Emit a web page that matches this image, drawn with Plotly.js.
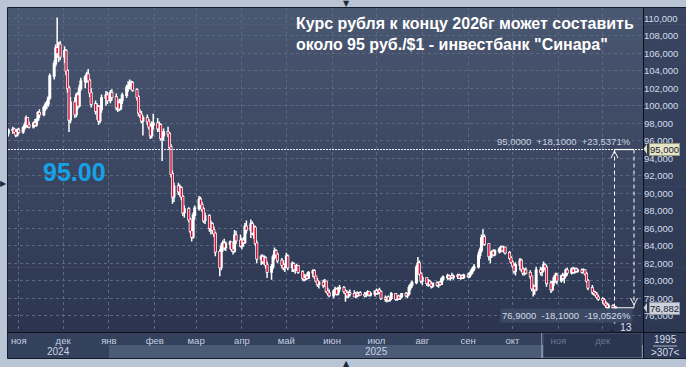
<!DOCTYPE html>
<html><head><meta charset="utf-8">
<script src="https://cdn.plot.ly/plotly-3.0.1.min.js"></script>
<style>html,body{margin:0;padding:0;background:#b9c5d5;}#chart{width:686px;height:367px;}</style>
</head><body><div id="chart"></div>
<script>
// ---------- DATA ----------
const dates = [
'2024-10-25',
'2024-10-28','2024-10-29','2024-10-30','2024-10-31','2024-11-01',
'2024-11-04','2024-11-05','2024-11-06','2024-11-07','2024-11-08',
'2024-11-11','2024-11-12','2024-11-13','2024-11-14','2024-11-15',
'2024-11-18','2024-11-19','2024-11-20','2024-11-21','2024-11-22',
'2024-11-25','2024-11-26','2024-11-27','2024-11-28','2024-11-29',
'2024-12-02','2024-12-03','2024-12-04','2024-12-05','2024-12-06',
'2024-12-09','2024-12-10','2024-12-11','2024-12-12','2024-12-13',
'2024-12-16','2024-12-17','2024-12-18','2024-12-19','2024-12-20',
'2024-12-23','2024-12-24','2024-12-25','2024-12-26','2024-12-27',
'2024-12-30','2024-12-31','2025-01-02','2025-01-03',
'2025-01-06','2025-01-07','2025-01-08','2025-01-09','2025-01-10',
'2025-01-13','2025-01-14','2025-01-15','2025-01-16','2025-01-17',
'2025-01-20','2025-01-21','2025-01-22','2025-01-23','2025-01-24',
'2025-01-27','2025-01-28','2025-01-29','2025-01-30','2025-01-31',
'2025-02-03','2025-02-04','2025-02-05','2025-02-06','2025-02-07',
'2025-02-10','2025-02-11','2025-02-12','2025-02-13','2025-02-14',
'2025-02-17','2025-02-18','2025-02-19','2025-02-20','2025-02-21',
'2025-02-24','2025-02-25','2025-02-26','2025-02-27','2025-02-28',
'2025-03-03','2025-03-04','2025-03-05','2025-03-06','2025-03-07',
'2025-03-10','2025-03-11','2025-03-12','2025-03-13','2025-03-14',
'2025-03-17','2025-03-18','2025-03-19','2025-03-20','2025-03-21',
'2025-03-24','2025-03-25','2025-03-26','2025-03-27','2025-03-28',
'2025-03-31','2025-04-01','2025-04-02','2025-04-03','2025-04-04',
'2025-04-07','2025-04-08','2025-04-09','2025-04-10','2025-04-11',
'2025-04-14','2025-04-15','2025-04-16','2025-04-17','2025-04-18',
'2025-04-21','2025-04-22','2025-04-23','2025-04-24','2025-04-25',
'2025-04-28','2025-04-29','2025-04-30','2025-05-01','2025-05-02',
'2025-05-05','2025-05-06','2025-05-07','2025-05-08','2025-05-09',
'2025-05-12','2025-05-13','2025-05-14','2025-05-15','2025-05-16',
'2025-05-19','2025-05-20','2025-05-21','2025-05-22','2025-05-23',
'2025-05-26','2025-05-27','2025-05-28','2025-05-29','2025-05-30',
'2025-06-02','2025-06-03','2025-06-04','2025-06-05','2025-06-06',
'2025-06-09','2025-06-10','2025-06-11','2025-06-12','2025-06-13',
'2025-06-16','2025-06-17','2025-06-18','2025-06-19','2025-06-20',
'2025-06-23','2025-06-24','2025-06-25','2025-06-26','2025-06-27',
'2025-06-30','2025-07-01','2025-07-02','2025-07-03','2025-07-04',
'2025-07-07','2025-07-08','2025-07-09','2025-07-10','2025-07-11',
'2025-07-14','2025-07-15','2025-07-16','2025-07-17','2025-07-18',
'2025-07-21','2025-07-22','2025-07-23','2025-07-24','2025-07-25',
'2025-07-28','2025-07-29','2025-07-30','2025-07-31','2025-08-01',
'2025-08-04','2025-08-05','2025-08-06','2025-08-07','2025-08-08',
'2025-08-11','2025-08-12','2025-08-13','2025-08-14','2025-08-15',
'2025-08-18','2025-08-19','2025-08-20','2025-08-21','2025-08-22',
'2025-08-25','2025-08-26','2025-08-27','2025-08-28','2025-08-29',
'2025-09-01','2025-09-02','2025-09-03','2025-09-04','2025-09-05',
'2025-09-08','2025-09-09','2025-09-10','2025-09-11','2025-09-12',
'2025-09-15','2025-09-16','2025-09-17','2025-09-18','2025-09-19',
'2025-09-22','2025-09-23','2025-09-24','2025-09-25','2025-09-26',
'2025-09-29','2025-09-30','2025-10-01','2025-10-02','2025-10-03',
'2025-10-06','2025-10-07','2025-10-08','2025-10-09','2025-10-10',
'2025-10-13','2025-10-14','2025-10-15','2025-10-16','2025-10-17',
'2025-10-20','2025-10-21','2025-10-22','2025-10-23','2025-10-24',
'2025-10-27','2025-10-28','2025-10-29','2025-10-30','2025-10-31',
'2025-11-03','2025-11-04','2025-11-05','2025-11-06','2025-11-07',
'2025-11-10','2025-11-11','2025-11-12','2025-11-13','2025-11-14',
'2025-11-17','2025-11-18','2025-11-19','2025-11-20','2025-11-21',
'2025-11-24','2025-11-25','2025-11-26','2025-11-27','2025-11-28',
'2025-12-01','2025-12-02','2025-12-03','2025-12-04','2025-12-05',
'2025-12-08','2025-12-09','2025-12-10'];

const openPrices = [96.9,
97.2,97.3,97.0,96.7,97.2, 97.0,97.5,97.8,98.6,97.8, 97.6,98.0,97.8,98.4,99.2, 99.0,99.8,100.1,100.2,100.9,
103.4,104.8,106.6,106.0,107.0, 105.6,106.3,104.0,102.0,98.4, 100.4,99.0,101.2,100.0,102.0, 102.8,103.3,103.6,102.9,101.5,
100.2,99.4,99.9,98.3,99.6, 100.9,101.2,100.6,101.5,
101.0,99.8,100.3,99.7,100.6, 101.2,102.1,102.3,102.5,102.6, 101.8,101.0,99.2,99.0,98.3, 98.6,98.2,97.6,96.6,97.8,
98.0,97.4,97.8,96.3,96.6, 97.0,96.8,95.3,92.2,89.6, 90.8,90.2,90.6,89.6,87.8, 88.2,87.0,85.7,85.0,87.5,
88.3,89.3,88.7,88.2,86.9, 87.4,86.0,86.5,85.8,85.4, 83.3,81.5,83.9,84.3,83.8, 84.2,84.4,83.6,83.4,85.2,
84.6,84.0,84.6,84.4,86.2, 85.8,86.5,85.5,86.1,84.3, 82.5,82.7,82.2,82.6,81.8, 81.0,81.6,82.7,83.4,83.0,
82.3,81.8,81.5,81.7,82.8, 81.5,81.9,81.3,81.6,81.7, 81.0,80.3,80.2,80.5,80.3, 80.9,81.1,80.5,80.0,79.6,
79.8,79.5,79.9,78.8,78.6, 78.3,78.8,79.0,78.5,79.1, 79.2,78.8,78.6,78.3,78.6, 78.5,78.2,78.5,78.4,78.6,
78.4,78.3,78.6,78.7,78.4, 78.5,78.8,78.6,78.9,78.7, 78.0,77.9,78.1,77.8,78.0, 78.5,77.9,78.2,78.0,78.2,
78.5,78.3,78.5,79.2,79.5, 79.8,81.5,82.0,80.8,80.0, 80.3,79.7,79.9,79.6,79.4, 79.7,79.5,79.8,79.6,80.2,
80.4,80.5,80.3,80.5,80.4, 80.5,80.6,80.3,80.5,80.4, 80.6,80.5,80.8,81.1,81.4, 81.6,82.9,83.5,84.9,85.0,
84.2,82.8,83.1,83.3,83.0, 83.4,83.6,83.8,83.5,83.8, 83.2,82.6,82.1,81.7,81.1, 81.8,82.3,81.3,80.9,81.2,
80.9,80.5,79.1,79.3,79.0, 81.2,81.0,81.3,81.8,81.5, 79.7,79.0,79.8,80.3,80.6, 80.0,80.5,80.3,80.6,81.2,
80.9,81.3,81.0,81.3,81.1, 81.2,81.0,81.2,80.8,80.0, 79.2,78.7,78.6,78.4,78.1, 77.9,77.8,77.4,77.2,77.0,
77.1,76.7,76.9];

const highPrices = [97.4,
97.6,97.5,97.2,97.4,97.5, 97.7,98.1,98.9,98.7,98.2, 98.2,98.5,98.6,99.4,99.6, 100.0,100.4,100.6,101.1,103.7,
105.2,107.0,110.1,107.3,107.4, 106.8,106.5,104.2,102.3,101.0, 101.0,101.5,101.6,102.4,103.2, 103.5,103.9,104.2,103.1,102.0,
100.6,100.3,100.1,100.0,101.3, 101.7,101.6,101.8,101.9,
101.4,100.6,100.8,100.8,101.5, 102.4,102.8,103.0,102.9,102.8, 102.0,101.2,99.6,99.4,98.9, 99.0,98.5,98.0,98.2,99.1,
98.6,98.2,98.0,97.0,97.4, 97.6,97.0,95.6,92.6,91.2, 91.2,91.0,90.8,89.8,88.6, 88.4,87.2,86.0,87.8,88.6,
89.7,89.6,89.0,88.4,87.8, 87.6,86.9,86.7,86.2,85.6, 83.6,84.3,84.6,84.8,84.5, 84.6,84.5,84.0,85.8,85.7,
85.3,84.9,85.0,86.6,86.9, 87.0,86.8,86.4,86.3,84.6, 83.0,83.0,82.9,82.8,82.2, 81.9,83.0,83.8,83.6,83.2,
82.6,82.3,82.0,83.2,83.0, 82.2,82.1,81.8,81.9,81.8, 81.2,80.8,80.7,80.9,81.1, 81.3,81.3,80.6,80.3,80.0,
80.1,80.2,80.0,79.2,79.0, 79.0,79.3,79.2,79.3,79.5, 79.4,79.0,78.9,78.8,79.0, 78.9,78.7,78.8,78.7,78.8,
78.7,78.7,78.9,78.8,78.7, 78.9,79.1,79.0,79.2,78.9, 78.3,78.2,78.3,78.1,78.7, 78.6,78.3,78.4,78.3,78.6,
78.7,78.6,79.5,79.7,80.0, 81.8,82.7,82.3,81.0,80.6, 80.4,80.2,80.1,79.9,79.8, 79.9,79.9,80.0,80.4,80.6,
80.8,80.7,80.6,80.9,80.7, 80.8,80.8,80.7,80.7,80.8, 80.9,81.0,81.3,81.6,81.9, 83.3,83.8,85.3,85.9,85.3,
84.3,83.3,83.5,83.6,83.6, 83.8,84.0,84.0,84.0,83.9, 83.4,82.8,82.3,82.0,82.1, 82.6,82.5,81.6,81.4,81.5,
81.2,80.6,79.6,79.5,81.6, 81.6,81.5,82.2,82.0,81.8, 80.0,80.0,80.6,80.9,80.9, 80.7,80.9,80.8,81.4,81.5,
81.5,81.6,81.5,81.5,81.4, 81.4,81.4,81.3,81.0,80.2, 79.5,78.9,78.8,78.7,78.4, 78.1,78.0,77.7,77.5,77.4,
77.3,77.2,77.1];

const lowPrices = [96.5,
96.8,96.9,96.4,96.5,96.8, 96.8,97.2,97.5,97.5,97.4, 97.4,97.6,97.6,98.2,98.6, 98.8,99.4,99.6,99.9,100.7,
103.0,104.5,105.5,105.0,105.2, 104.9,103.5,101.5,97.0,98.0, 98.6,98.7,99.6,99.8,101.7, 102.0,102.6,102.7,101.0,99.8,
99.0,98.4,97.8,98.0,99.2, 100.0,100.2,100.3,100.6,
99.5,99.3,99.4,99.5,100.2, 100.9,101.6,101.9,101.8,101.6, 100.6,98.8,98.6,98.0,96.6, 97.8,97.3,96.2,96.3,97.3,
97.0,97.0,96.0,93.7,96.0, 96.4,95.0,91.8,88.8,89.0, 89.8,89.6,89.2,87.4,87.2, 86.7,85.4,84.5,84.8,87.0,
88.0,88.2,87.9,86.6,86.5, 85.6,85.3,85.4,85.0,82.8, 80.5,81.2,83.3,83.5,83.4, 83.6,83.3,83.0,83.2,84.2,
83.8,83.6,83.9,84.2,85.4, 84.9,85.2,84.8,84.0,82.0, 81.8,81.9,81.8,81.4,80.3, 80.1,81.3,82.4,82.6,82.0,
81.4,81.2,81.0,81.5,81.2, 81.0,81.0,80.8,81.1,80.8, 80.0,79.9,80.0,80.1,80.2, 80.4,80.2,79.8,79.3,79.1,
79.2,79.3,78.6,78.3,78.1, 78.0,78.4,78.3,78.3,78.7, 78.5,77.6,78.0,78.0,78.2, 78.1,78.0,78.1,78.2,78.3,
78.1,78.1,78.3,78.2,78.2, 78.2,78.4,78.4,78.5,77.8, 77.6,77.5,77.6,77.6,77.8, 77.7,77.7,77.8,77.8,78.0,
78.1,78.0,78.3,78.9,79.2, 79.6,81.2,80.6,79.7,79.5, 79.4,79.3,79.4,79.1,79.2, 79.3,79.2,79.4,79.5,79.9,
80.1,80.1,80.0,80.2,80.1, 80.2,80.2,80.1,80.2,80.2, 80.3,80.3,80.6,80.8,81.1, 81.4,82.5,83.2,84.2,84.0,
82.3,82.0,82.6,82.8,82.8, 83.1,83.2,83.3,83.2,83.0, 82.4,81.9,81.5,80.8,80.6, 81.2,81.0,80.6,80.6,80.7,
80.2,78.8,78.2,78.4,78.8, 80.6,80.5,81.0,81.2,79.3, 78.6,78.8,79.4,79.8,79.6, 79.8,80.0,79.7,80.4,80.6,
80.7,80.8,80.8,80.9,80.9, 80.8,80.9,80.6,79.8,78.9, 78.4,78.3,78.2,77.9,77.7, 77.4,77.2,76.9,76.7,76.6,
76.5,75.1,76.6];

const closePrices = [97.2,
97.3,97.0,96.7,97.2,97.0, 97.5,97.8,98.6,97.8,97.6, 98.0,97.8,98.4,99.2,99.0, 99.8,100.1,100.2,100.9,103.4,
104.8,106.6,106.0,107.0,105.6, 106.3,104.0,102.0,98.4,100.4, 99.0,101.2,100.0,102.0,102.8, 103.3,103.6,102.9,101.5,100.2,
99.4,99.9,98.3,99.6,100.9, 101.2,100.6,101.5,101.0,
99.8,100.3,99.7,100.6,101.2, 102.1,102.3,102.5,102.6,101.8, 101.0,99.2,99.0,98.3,98.6, 98.2,97.6,96.6,97.8,98.0,
97.4,97.8,96.3,96.6,97.0, 96.8,95.3,92.2,89.6,90.8, 90.2,90.6,89.6,87.8,88.2, 87.0,85.7,85.0,87.5,88.3,
89.3,88.7,88.2,86.9,87.4, 86.0,86.5,85.8,85.4,83.3, 81.5,83.9,84.3,83.8,84.2, 84.4,83.6,83.4,85.2,84.6,
84.0,84.6,84.4,86.2,85.8, 86.5,85.5,86.1,84.3,82.5, 82.7,82.2,82.6,81.8,81.0, 81.6,82.7,83.4,83.0,82.3,
81.8,81.5,81.7,82.8,81.5, 81.9,81.3,81.6,81.7,81.0, 80.3,80.2,80.5,80.3,80.9, 81.1,80.5,80.0,79.6,79.8,
79.5,79.9,78.8,78.6,78.3, 78.8,79.0,78.5,79.1,79.2, 78.8,78.6,78.3,78.6,78.5, 78.2,78.5,78.4,78.6,78.4,
78.3,78.6,78.7,78.4,78.5, 78.8,78.6,78.9,78.7,78.0, 77.9,78.1,77.8,78.0,78.5, 77.9,78.2,78.0,78.2,78.5,
78.3,78.5,79.2,79.5,79.8, 81.5,82.0,80.8,80.0,80.3, 79.7,79.9,79.6,79.4,79.7, 79.5,79.8,79.6,80.2,80.4,
80.5,80.3,80.5,80.4,80.5, 80.6,80.3,80.5,80.4,80.6, 80.5,80.8,81.1,81.4,81.6, 82.9,83.5,84.9,85.0,84.2,
82.8,83.1,83.3,83.0,83.4, 83.6,83.8,83.5,83.8,83.2, 82.6,82.1,81.7,81.1,81.8, 82.3,81.3,80.9,81.2,80.9,
80.5,79.1,79.3,79.0,81.2, 81.0,81.3,81.8,81.5,79.7, 79.0,79.8,80.3,80.6,80.0, 80.5,80.3,80.6,81.2,80.9,
81.3,81.0,81.3,81.1,81.2, 81.0,81.2,80.8,80.0,79.2, 78.7,78.6,78.4,78.1,77.9, 77.8,77.4,77.2,77.0,77.1,
76.7,76.9,76.882];

const yTickVals = [76,78,80,82,84,86,88,90,92,94,96,98,100,102,104,106,108,110];
const yTickText = ['76,000','78,000','80,000','82,000','84,000','86,000','88,000','90,000','92,000','94,000','96,000','98,000','100,000','102,000','104,000','106,000','108,000','110,000'];
const monthTickVals = ['2024-11-01','2024-12-01','2025-01-01','2025-02-01','2025-03-01','2025-04-01','2025-05-01','2025-06-01','2025-07-01','2025-08-01','2025-09-01','2025-10-01','2025-11-01','2025-12-01'];
const monthTickText = ['ноя','дек','янв','фев','мар','апр','май','июн','июл','авг','сен','окт','ноя','дек'];
const dimMonths = [12,13];
const yearLabels = ['2024','2025'];
const yearCenters = ['2024-11-28','2025-07-01'];
const xRange = ['2024-10-24 18:00','2025-12-28 06:00'];
const yRange = [74.14, 111.18];
const targetPrice = 95;
const lastPrice = 76.882;
const measureLow = 76.9;
const titleLines = ['Курс рубля к концу 2026г может составить','около 95 руб./$1 - инвестбанк "Синара"'];
const forecastLabel = '95.00';
const upperMeasureText = '95,0000  +18,1000  +23,5371%';
const lowerMeasureText = '76,9000  -18,1000  -19,0526%';
const targetBoxText = '95,000';
const lastBoxText = '76,882';
const barCountText = '13';
const cornerTop = '1995';
const cornerBottom = '>307<';

// ---------- helpers (pixel -> paper) ----------
const L = 8, T = 8, PW = 635, PH = 324;
const pxX = x => (x - L) / PW;
const pxY = y => (T + PH - y) / PH;
function hex(c){return [parseInt(c.slice(1,3),16),parseInt(c.slice(3,5),16),parseInt(c.slice(5,7),16)];}
function mix(a,b,t){const A=hex(a),B=hex(b);return 'rgb('+A.map((v,i)=>Math.round(v+(B[i]-v)*t)).join(',')+')';}

const shapes = [];
const N = 40;
for (let i = 0; i < N; i++) {
  const ya = T + PH * i / N, yb = T + PH * (i + 1) / N + 0.6;
  const t = (i + 0.5) / N;
  shapes.push({type:'rect', xref:'paper', yref:'paper', x0:pxX(8), x1:pxX(643), y0:pxY(yb), y1:pxY(ya), fillcolor:mix('#4a5771','#2b3550',t), line:{width:0}, layer:'below'});
  shapes.push({type:'rect', xref:'paper', yref:'paper', x0:pxX(643), x1:pxX(686), y0:pxY(yb), y1:pxY(ya), fillcolor:mix('#3a4661','#2c3752',t), line:{width:0}, layer:'below'});
}
// bottom axis panel
shapes.push({type:'rect', xref:'paper', yref:'paper', x0:pxX(8), x1:pxX(643), y0:pxY(345), y1:pxY(332), fillcolor:'#34415c', line:{width:0}, layer:'below'});
shapes.push({type:'rect', xref:'paper', yref:'paper', x0:pxX(8), x1:pxX(109), y0:pxY(358), y1:pxY(345), fillcolor:'#34415c', line:{width:0}, layer:'below'});
shapes.push({type:'rect', xref:'paper', yref:'paper', x0:pxX(109), x1:pxX(541), y0:pxY(358), y1:pxY(345), fillcolor:'#4b5a77', line:{width:0}, layer:'below'});
shapes.push({type:'rect', xref:'paper', yref:'paper', x0:pxX(543), x1:pxX(642), y0:pxY(357.5), y1:pxY(333), fillcolor:'#2a3550', line:{width:1, color:'#4f5d79'}, layer:'below'});
shapes.push({type:'line', xref:'paper', yref:'paper', x0:pxX(541.5), x1:pxX(541.5), y0:pxY(358), y1:pxY(332), line:{width:1, color:'#7d8aa3'}, layer:'below'});
shapes.push({type:'rect', xref:'paper', yref:'paper', x0:pxX(643), x1:pxX(686), y0:pxY(358), y1:pxY(332), fillcolor:'#2e3a55', line:{width:0}, layer:'below'});
shapes.push({type:'line', xref:'paper', yref:'paper', x0:pxX(653), x1:pxX(677), y0:pxY(346), y1:pxY(346), line:{width:1, color:'#aab4c6'}, layer:'below'});
// frame
shapes.push({type:'rect', xref:'paper', yref:'paper', x0:pxX(7.5), x1:pxX(686.5), y0:pxY(358.5), y1:pxY(7.5), line:{width:1, color:'#141b2b'}, fillcolor:'rgba(0,0,0,0)', layer:'above'});
shapes.push({type:'line', xref:'paper', yref:'paper', x0:pxX(7.5), x1:pxX(686), y0:pxY(332.5), y1:pxY(332.5), line:{width:1, color:'#0b101c'}, layer:'above'});
shapes.push({type:'line', xref:'paper', yref:'paper', x0:pxX(643.5), x1:pxX(643.5), y0:pxY(358), y1:pxY(8), line:{width:1, color:'#0b101c'}, layer:'above'});
// target line at 95
shapes.push({type:'line', xref:'paper', yref:'y', x0:0, x1:1, y0:targetPrice, y1:targetPrice, line:{width:1, color:'#eef1f6', dash:'2px,1px'}, layer:'above'});
// measurement tool
const mxL = 614.5, mxR = 634;
shapes.push({type:'line', xref:'paper', yref:'y', x0:pxX(mxL), x1:pxX(mxL), y0:targetPrice, y1:measureLow, line:{width:1, color:'#ffffff', dash:'4px,3px'}, layer:'above'});
shapes.push({type:'line', xref:'paper', yref:'y', x0:pxX(mxR), x1:pxX(mxR), y0:targetPrice, y1:measureLow, line:{width:1, color:'#ffffff', dash:'4px,3px'}, layer:'above'});
shapes.push({type:'line', xref:'paper', yref:'y', x0:pxX(mxL), x1:pxX(mxR), y0:targetPrice, y1:targetPrice, line:{width:1.2, color:'#ffffff'}, layer:'above'});
shapes.push({type:'line', xref:'paper', yref:'y', x0:pxX(611.5), x1:pxX(mxR), y0:measureLow, y1:measureLow, line:{width:1.2, color:'#ffffff'}, layer:'above'});
shapes.push({type:'path', xref:'paper', yref:'paper', path:'M'+pxX(mxL-3.5)+','+pxY(158)+' L'+pxX(mxL)+','+pxY(151)+' L'+pxX(mxL+3.5)+','+pxY(158), line:{width:1, color:'#ffffff'}, layer:'above'});
shapes.push({type:'path', xref:'paper', yref:'paper', path:'M'+pxX(mxR-3.5)+','+pxY(298)+' L'+pxX(mxR)+','+pxY(305)+' L'+pxX(mxR+3.5)+','+pxY(298), line:{width:1, color:'#ffffff'}, layer:'above'});
// price box pointers
shapes.push({type:'path', xref:'paper', yref:'paper', path:'M'+pxX(647)+','+pxY(144)+' L'+pxX(643.5)+','+pxY(149)+' L'+pxX(647)+','+pxY(154)+' Z', fillcolor:'#e3e3c5', line:{width:0}, layer:'above'});
shapes.push({type:'path', xref:'paper', yref:'paper', path:'M'+pxX(647)+','+pxY(303)+' L'+pxX(643.5)+','+pxY(307.7)+' L'+pxX(647)+','+pxY(312.5)+' Z', fillcolor:'#cdd1d9', line:{width:0}, layer:'above'});

const FONT = 'Liberation Sans, Arial, sans-serif';
const annotations = [
  {xref:'paper', yref:'paper', x:pxX(294), y:pxY(13), xanchor:'left', yanchor:'top', align:'left', showarrow:false,
   text:titleLines.map(s=>'<b>'+s+'</b>').join('<br>'), font:{family:FONT, size:16, color:'#ffffff'}},
  {xref:'paper', yref:'paper', x:pxX(74), y:pxY(172.5), xanchor:'center', yanchor:'middle', showarrow:false,
   text:'<b>'+forecastLabel+'</b>', font:{family:FONT, size:25, color:'#16a2e6'}},
  {xref:'paper', yref:'paper', x:pxX(633), y:pxY(141), xanchor:'right', yanchor:'middle', showarrow:false,
   text:upperMeasureText, font:{family:FONT, size:9.5, color:'#c9d1df'}},
  {xref:'paper', yref:'paper', x:pxX(633), y:pxY(315.7), xanchor:'right', yanchor:'middle', showarrow:false,
   text:lowerMeasureText, font:{family:FONT, size:9.5, color:'#d4dbe7'}, bgcolor:'#3c4965', borderpad:1},
  {xref:'paper', yref:'paper', x:pxX(625.5), y:pxY(327), xanchor:'center', yanchor:'middle', showarrow:false,
   text:barCountText, font:{family:FONT, size:10.5, color:'#d8e0ee'}},
  {xref:'paper', yref:'y', x:pxX(664.5), y:targetPrice, xanchor:'center', yanchor:'middle', showarrow:false,
   text:targetBoxText, font:{family:FONT, size:9.5, color:'#1b2233'}, bgcolor:'#e3e3c5', bordercolor:'#9b9b80', borderwidth:1, borderpad:0},
  {xref:'paper', yref:'y', x:pxX(664.5), y:lastPrice, xanchor:'center', yanchor:'middle', showarrow:false,
   text:lastBoxText, font:{family:FONT, size:9.5, color:'#1b2233'}, bgcolor:'#cdd1d9', bordercolor:'#8d95a3', borderwidth:1, borderpad:0},
  {xref:'paper', yref:'paper', x:pxX(665), y:pxY(339.3), xanchor:'center', yanchor:'middle', showarrow:false,
   text:cornerTop, font:{family:FONT, size:10, color:'#d6deeb'}},
  {xref:'paper', yref:'paper', x:pxX(665), y:pxY(352.7), xanchor:'center', yanchor:'middle', showarrow:false,
   text:cornerBottom, font:{family:FONT, size:10, color:'#d6deeb'}},
  {xref:'paper', yref:'paper', x:pxX(346.7), y:pxY(3.5), xanchor:'center', yanchor:'middle', showarrow:false,
   text:'▼', font:{family:'DejaVu Sans', size:8, color:'#1c2840'}},
  {xref:'paper', yref:'paper', x:pxX(346.7), y:pxY(363), xanchor:'center', yanchor:'middle', showarrow:false,
   text:'▲', font:{family:'DejaVu Sans', size:8, color:'#1c2840'}},
  {xref:'paper', yref:'paper', x:pxX(3.5), y:pxY(183), xanchor:'center', yanchor:'middle', showarrow:false,
   text:'▶', font:{family:'DejaVu Sans', size:8, color:'#1c2840'}},
  {xref:'paper', yref:'paper', x:pxX(612.7), y:pxY(329.5), xanchor:'center', yanchor:'middle', showarrow:false,
   text:'▲', font:{family:'DejaVu Sans', size:6, color:'#1a2236'}}
];
yearLabels.forEach((t,i)=>annotations.push({xref:'x', yref:'paper', x:yearCenters[i], y:pxY(351.7), xanchor:'center', yanchor:'middle', showarrow:false, text:t, font:{family:FONT, size:10, color:'#c9d3e5'}}));

const tickText = monthTickText.map((t,i)=> dimMonths.includes(i) ? '<span style="color:#69778f">'+t+'</span>' : t);

// all candles: white outline + white wicks
const trace = {
  type:'candlestick', x:dates, open:openPrices, high:highPrices, low:lowPrices, close:closePrices,
  increasing:{line:{color:'#ffffff', width:1.5}, fillcolor:'rgba(0,0,0,0)'},
  decreasing:{line:{color:'#ffffff', width:1.5}, fillcolor:'#d3123a'},
  whiskerwidth:0, hoverinfo:'skip', showlegend:false
};
// red bodies of the falling candles, painted over the white outlines
const downIdx = closePrices.map((c,i)=> c < openPrices[i] ? i : -1).filter(i => i >= 0);
const redBodies = {
  type:'candlestick',
  x:downIdx.map(i=>dates[i]), open:downIdx.map(i=>openPrices[i]), high:downIdx.map(i=>openPrices[i]),
  low:downIdx.map(i=>closePrices[i]), close:downIdx.map(i=>closePrices[i]),
  increasing:{line:{color:'#d3123a', width:0}, fillcolor:'#d3123a'},
  decreasing:{line:{color:'#d3123a', width:0}, fillcolor:'#d3123a'},
  whiskerwidth:0, hoverinfo:'skip', showlegend:false
};

const layout = {
  width:686, height:367,
  margin:{l:8, r:43, t:8, b:35, pad:0},
  paper_bgcolor:'#b9c5d5', plot_bgcolor:'rgba(0,0,0,0)',
  showlegend:false, boxgap:0, boxgroupgap:0, boxmode:'overlay',
  xaxis:{type:'date', range:xRange, tickmode:'array', tickvals:monthTickVals, ticktext:tickText,
    showgrid:true, gridcolor:'#5a6884', griddash:'3px,3px', gridwidth:1, ticks:'', zeroline:false,
    tickfont:{family:FONT, size:9.5, color:'#c5d0e3'}, showline:false, rangeslider:{visible:false},
    fixedrange:true, automargin:false, ticklabelstandoff:1},
  yaxis:{side:'right', range:yRange, tickmode:'array', tickvals:yTickVals, ticktext:yTickText,
    showgrid:true, gridcolor:'#5a6884', griddash:'3px,3px', gridwidth:1, ticks:'', zeroline:false,
    tickfont:{family:FONT, size:9.5, color:'#d3dcec'}, showline:false, fixedrange:true, automargin:false},
  shapes:shapes, annotations:annotations
};

Plotly.newPlot('chart', [trace, redBodies], layout, {staticPlot:true, displayModeBar:false});
</script>
</body></html>
